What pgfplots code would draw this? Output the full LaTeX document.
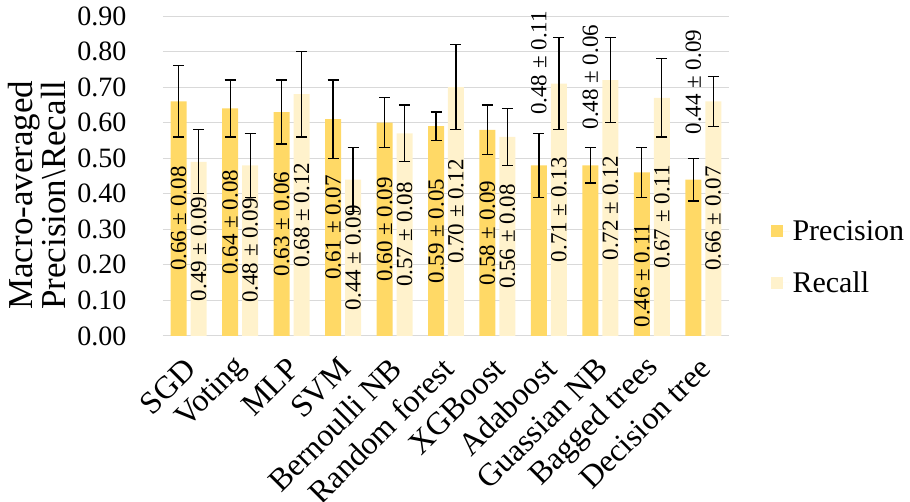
\documentclass[border=0pt]{standalone}
\usepackage{pgfplots}
\pgfplotsset{compat=1.18}
\usepackage{pgfplotstable}
\usepackage{fontspec}
\setmainfont{Liberation Serif}
\definecolor{prec}{HTML}{FFD966}
\definecolor{rec}{HTML}{FFF2CC}
\definecolor{gridc}{HTML}{D9D9D9}

% x positions are category index minus/plus the half pair offset
\pgfplotstableread[col sep=comma]{
x,y,err
-0.194,0.66,0.10
0.806,0.64,0.08
1.806,0.63,0.09
2.806,0.61,0.11
3.806,0.60,0.07
4.806,0.59,0.04
5.806,0.58,0.07
6.806,0.48,0.09
7.806,0.48,0.05
8.806,0.46,0.07
9.806,0.44,0.06
}\precdata

\pgfplotstableread[col sep=comma]{
x,y,err
0.194,0.49,0.09
1.194,0.48,0.09
2.194,0.68,0.12
3.194,0.44,0.09
4.194,0.57,0.08
5.194,0.70,0.12
6.194,0.56,0.08
7.194,0.71,0.13
8.194,0.72,0.12
9.194,0.67,0.11
10.194,0.66,0.07
}\recdata

% label positions (y = label centre)
\pgfplotstableread[col sep=comma]{
x,y,label
-0.194,0.33,0.66 ± 0.08
0.806,0.32,0.64 ± 0.08
1.806,0.315,0.63 ± 0.06
2.806,0.305,0.61 ± 0.07
3.806,0.30,0.60 ± 0.09
4.806,0.295,0.59 ± 0.05
5.806,0.29,0.58 ± 0.09
6.806,0.768,0.48 ± 0.11
7.806,0.728,0.48 ± 0.06
8.806,0.17,0.46 ± 0.11
9.806,0.714,0.44 ± 0.09
}\preclab

\pgfplotstableread[col sep=comma]{
x,y,label
0.194,0.245,0.49 ± 0.09
1.194,0.24,0.48 ± 0.09
2.194,0.34,0.68 ± 0.12
3.194,0.22,0.44 ± 0.09
4.194,0.285,0.57 ± 0.08
5.194,0.35,0.70 ± 0.12
6.194,0.28,0.56 ± 0.08
7.194,0.355,0.71 ± 0.13
8.194,0.36,0.72 ± 0.12
9.194,0.335,0.67 ± 0.11
10.194,0.33,0.66 ± 0.07
}\reclab

\begin{document}
\begin{tikzpicture}
\begin{axis}[
  scale only axis,
  width=566pt, height=320pt,
  xmin=-0.5, xmax=10.5,
  ymin=0, ymax=0.9,
  ytick={0,0.1,...,0.9},
  xtick={0,...,10},
  xticklabels={SGD,Voting,MLP,SVM,Bernoulli NB,Random forest,XGBoost,Adaboost,Guassian NB,Bagged trees,Decision tree},
  xticklabel style={rotate=45, anchor=east, font=\fontsize{32}{34}\selectfont, xshift=-14.6pt, yshift=-20.6pt},
  yticklabel style={font=\fontsize{28}{30}\selectfont, xshift=-33pt},
  yticklabel={\pgfmathprintnumber[fixed,fixed zerofill,precision=2]{\tick}},
  /pgf/number format/assume math mode=true,
  major tick length=0pt,
  axis line style={draw=none},
  ymajorgrids,
  grid style={gridc, line width=1pt},
  ylabel={Macro-averaged\\Precision\textbackslash Recall},
  every axis y label/.style={at={(axis description cs:-0.222,0.44)}, rotate=90, anchor=center,
    align=center, font=\fontsize{35}{33}\selectfont},
  legend style={draw=none, fill=none, at={(axis description cs:1.073,0.246)}, anchor=west,
    font=\fontsize{30}{32}\selectfont, row sep=26pt, inner sep=0pt},
  legend cell align=left,
  legend image code/.code={\fill[#1] (0pt,-6pt) rectangle (12pt,6pt); \path (0pt,0pt) -- (20pt,0pt);},
]
\addplot[ybar, bar width=16pt, bar shift=0pt, fill=prec, draw=none,
  error bars/.cd, y dir=both, y explicit,
  error bar style={black, line width=1.3pt},
  error mark options={rotate=90, mark size=5.5pt, line width=1.3pt, black}]
  table[x=x, y=y, y error=err] {\precdata};
\addlegendentry{Precision}
\addplot[ybar, bar width=16pt, bar shift=0pt, fill=rec, draw=none,
  error bars/.cd, y dir=both, y explicit,
  error bar style={black, line width=1.3pt},
  error mark options={rotate=90, mark size=5.5pt, line width=1.3pt, black}]
  table[x=x, y=y, y error=err] {\recdata};
\addlegendentry{Recall}

\addplot[forget plot, draw=none, mark=none, nodes near coords, point meta=explicit symbolic,
  every node near coord/.style={rotate=90, anchor=center, inner sep=0pt, black, font=\fontsize{23}{25}\selectfont}]
  table[x=x, y=y, meta=label] {\preclab};
\addplot[forget plot, draw=none, mark=none, nodes near coords, point meta=explicit symbolic,
  every node near coord/.style={rotate=90, anchor=center, inner sep=0pt, black, font=\fontsize{23}{25}\selectfont}]
  table[x=x, y=y, meta=label] {\reclab};

\coordinate (bl) at (rel axis cs:0,0);
\end{axis}
\pgfresetboundingbox
\path[use as bounding box] (bl) ++(-163pt,-166pt) rectangle ++(910pt,502pt);
\end{tikzpicture}
\end{document}
